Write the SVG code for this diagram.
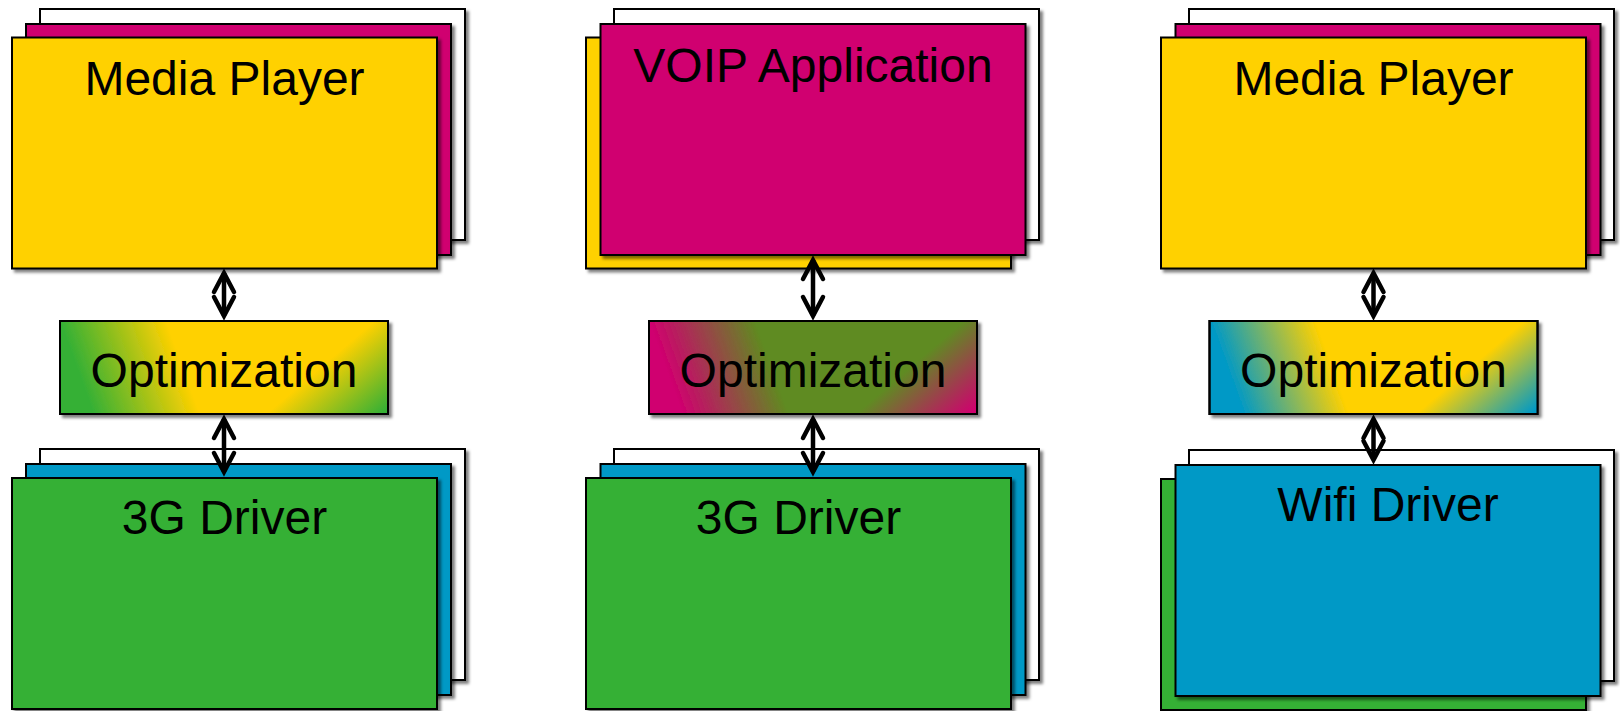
<svg xmlns="http://www.w3.org/2000/svg" width="1620" height="711" viewBox="0 0 1620 711">
  <defs>
    <style>
      .box { stroke: #000; stroke-width: 2; filter: url(#shadow); }
      .edge { stroke: #000; stroke-width: 2; }
      .white { fill: #FFFFFF; }
      .yellow { fill: #FFD100; }
      .magenta { fill: #D0006F; }
      .green { fill: #35B035; }
      .blue { fill: #0099C6; }
      .label { font-family: "Liberation Sans", Arial, sans-serif; font-size: 48px; fill: #000; text-anchor: middle; }
      .link { stroke: #000; stroke-width: 4.5; fill: none; marker-start: url(#head); marker-end: url(#head); }
    </style>
    <filter id="shadow" x="-5%" y="-5%" width="115%" height="115%">
      <feDropShadow dx="3" dy="3" stdDeviation="1.6" flood-color="#000" flood-opacity="0.5"/>
    </filter>
    <!-- open chevron arrowhead, tip at the reference point -->
    <marker id="head" markerUnits="userSpaceOnUse" orient="auto-start-reverse" refX="0" refY="0" markerWidth="30" markerHeight="30" viewBox="-25 -15 30 30" overflow="visible">
      <path d="M -19 -10 L 0 0 L -19 10" fill="none" stroke="#000" stroke-width="4.5" stroke-linecap="round" stroke-linejoin="miter"/>
    </marker>
    <!-- blended fills for the optimization layers, in the local space of a 328x93 box:
         a left-to-right base blend plus a corner blend toward the lower right -->
    <linearGradient id="baseGY" gradientUnits="userSpaceOnUse" x1="0" y1="0" x2="94" y2="-34">
      <stop offset="0" stop-color="#35B035"/>
      <stop offset="1" stop-color="#FFD100"/>
    </linearGradient>
    <linearGradient id="cornerG" gradientUnits="userSpaceOnUse" x1="132" y1="157" x2="181" y2="214">
      <stop offset="0" stop-color="#35B035" stop-opacity="0"/>
      <stop offset="1" stop-color="#35B035" stop-opacity="1"/>
    </linearGradient>
    <linearGradient id="baseMO" gradientUnits="userSpaceOnUse" x1="0" y1="0" x2="94" y2="-34">
      <stop offset="0" stop-color="#D0006F"/>
      <stop offset="1" stop-color="#5F8B20"/>
    </linearGradient>
    <linearGradient id="cornerM" gradientUnits="userSpaceOnUse" x1="132" y1="157" x2="181" y2="214">
      <stop offset="0" stop-color="#D0006F" stop-opacity="0"/>
      <stop offset="1" stop-color="#D0006F" stop-opacity="1"/>
    </linearGradient>
    <linearGradient id="baseBY" gradientUnits="userSpaceOnUse" x1="0" y1="0" x2="94" y2="-34">
      <stop offset="0" stop-color="#0099C6"/>
      <stop offset="1" stop-color="#FFD100"/>
    </linearGradient>
    <linearGradient id="cornerB" gradientUnits="userSpaceOnUse" x1="132" y1="157" x2="181" y2="214">
      <stop offset="0" stop-color="#0099C6" stop-opacity="0"/>
      <stop offset="1" stop-color="#0099C6" stop-opacity="1"/>
    </linearGradient>
  </defs>

  <rect width="1620" height="711" fill="#FFFFFF"/>

  <!-- column 1: media player over 3G -->
  <g id="app-media-player-1">
    <rect class="box white" x="40" y="9" width="425" height="231"/>
    <rect class="box magenta" x="26" y="24" width="425" height="231"/>
    <rect class="box yellow" x="12" y="37.5" width="425" height="231"/>
    <text class="label" x="224.5" y="95">Media Player</text>
  </g>
  <g id="optimization-1" transform="translate(60,321)">
    <rect class="box" x="0" y="0" width="328" height="93" fill="url(#baseGY)"/>
    <rect class="edge" x="0" y="0" width="328" height="93" fill="url(#cornerG)"/>
    <text class="label" x="164" y="65.5">Optimization</text>
  </g>
  <g id="driver-3g-1">
    <rect class="box white" x="40" y="449" width="425" height="231"/>
    <rect class="box blue" x="26" y="464" width="425" height="231"/>
    <rect class="box green" x="12" y="478" width="425" height="231"/>
    <text class="label" x="224.5" y="534">3G Driver</text>
  </g>

  <!-- column 2: VOIP over 3G -->
  <g id="app-voip-2">
    <rect class="box white" x="614" y="9" width="425" height="231"/>
    <rect class="box yellow" x="586" y="37.5" width="425" height="231"/>
    <rect class="box magenta" x="600.5" y="24" width="425" height="231"/>
    <text class="label" x="813" y="81.5">VOIP Application</text>
  </g>
  <g id="optimization-2" transform="translate(649,321)">
    <rect class="box" x="0" y="0" width="328" height="93" fill="url(#baseMO)"/>
    <rect class="edge" x="0" y="0" width="328" height="93" fill="url(#cornerM)"/>
    <text class="label" x="164" y="65.5">Optimization</text>
  </g>
  <g id="driver-3g-2">
    <rect class="box white" x="614" y="449" width="425" height="231"/>
    <rect class="box blue" x="600.5" y="464" width="425" height="231"/>
    <rect class="box green" x="586" y="478" width="425" height="231"/>
    <text class="label" x="798.5" y="534">3G Driver</text>
  </g>

  <!-- column 3: media player over Wifi -->
  <g id="app-media-player-3">
    <rect class="box white" x="1189" y="9" width="425" height="231"/>
    <rect class="box magenta" x="1175.5" y="24" width="425" height="231"/>
    <rect class="box yellow" x="1161" y="37.5" width="425" height="231"/>
    <text class="label" x="1373.5" y="95">Media Player</text>
  </g>
  <g id="optimization-3" transform="translate(1209.5,321)">
    <rect class="box" x="0" y="0" width="328" height="93" fill="url(#baseBY)"/>
    <rect class="edge" x="0" y="0" width="328" height="93" fill="url(#cornerB)"/>
    <text class="label" x="164" y="65.5">Optimization</text>
  </g>
  <g id="driver-wifi-3">
    <rect class="box white" x="1189" y="450" width="425" height="231"/>
    <rect class="box green" x="1161" y="479" width="425" height="231"/>
    <rect class="box blue" x="1175.5" y="465" width="425" height="231"/>
    <text class="label" x="1388" y="521">Wifi Driver</text>
  </g>

  <!-- two-way links between layers -->
  <g id="connectors">
    <path class="link" d="M 224 273 L 224 316"/>
    <path class="link" d="M 224 419 L 224 472"/>
    <path class="link" d="M 813 260 L 813 316"/>
    <path class="link" d="M 813 419 L 813 472"/>
    <path class="link" d="M 1373.5 273 L 1373.5 316"/>
    <path class="link" d="M 1373.5 419 L 1373.5 460"/>
  </g>
</svg>
